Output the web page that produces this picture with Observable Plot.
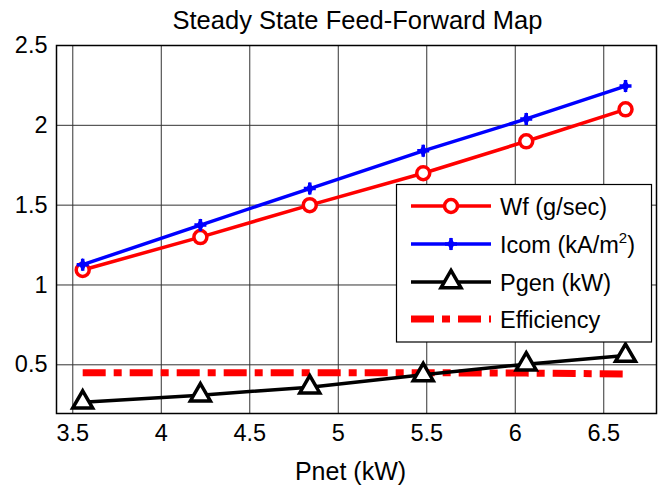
<!DOCTYPE html>
<html><head><meta charset="utf-8">
<script src="https://cdn.jsdelivr.net/npm/d3@7"></script>
<script src="https://cdn.jsdelivr.net/npm/@observablehq/plot@0.6"></script>
<style>html,body{margin:0;padding:0;background:#fff;overflow:hidden}</style>
</head><body><div id="chart"></div>
<script>
// ---- data ----
const pnet       = [3.556, 4.221, 4.839, 5.48, 6.062, 6.623];
const wf         = [1.094, 1.30, 1.50, 1.70, 1.90, 2.10];
const icom       = [1.127, 1.375, 1.604, 1.84, 2.04, 2.246];
const pgen       = [0.265, 0.31, 0.36, 0.437, 0.504, 0.558];
const efficiency = [0.45, 0.45, 0.45, 0.45, 0.448, 0.443];
const xTicks = [3.5, 4, 4.5, 5, 5.5, 6, 6.5];
const yTicks = [0.5, 1, 1.5, 2, 2.5];
const titleText = "Steady State Feed-Forward Map";
const xLabelText = "Pnet (kW)";
const legendNames = ["Wf (g/sec)", "Icom (kA/m", "Pgen (kW)", "Efficiency"];

const FONT = "'Liberation Sans', Arial, Helvetica, sans-serif";
const rows = pnet.map((x, i) => ({x, wf: wf[i], icom: icom[i], pgen: pgen[i], eff: efficiency[i]}));

const plusSym = {draw(ctx, size) {
  const r = Math.sqrt(size / Math.PI);
  ctx.moveTo(-r, 0); ctx.lineTo(r, 0); ctx.moveTo(0, -r); ctx.lineTo(0, r);
}};
const fmt = d => String(d);
const LW = 3.5;

const chart = Plot.plot({
  width: 660, height: 485,
  marginLeft: 56, marginRight: 4, marginTop: 45, marginBottom: 72,
  style: {fontFamily: FONT, background: "#fff", color: "#000"},
  x: {domain: [3.408, 6.798], label: null},
  y: {domain: [0.195, 2.5], label: null},
  marks: [
    Plot.gridX(xTicks, {stroke: "#333", strokeOpacity: 1, strokeWidth: 1}),
    Plot.gridY(yTicks, {stroke: "#333", strokeOpacity: 1, strokeWidth: 1}),
    Plot.axisX(xTicks, {tickSize: 0, tickPadding: 11, fontSize: 23.5, tickFormat: fmt, label: null}),
    Plot.axisY(yTicks, {tickSize: 0, tickPadding: 9, fontSize: 23.5, tickFormat: fmt, label: null}),
    Plot.line(rows, {x: "x", y: "eff", stroke: "#ff0000", strokeWidth: 7, strokeDasharray: "23,8,8,8", strokeLinecap: "butt"}),
    Plot.line(rows, {x: "x", y: "wf", stroke: "#ff0000", strokeWidth: LW}),
    Plot.dot(rows, {x: "x", y: "wf", r: 6.5, stroke: "#ff0000", strokeWidth: LW, fill: "white"}),
    Plot.line(rows, {x: "x", y: "icom", stroke: "#0000ff", strokeWidth: LW}),
    Plot.dot(rows, {x: "x", y: "icom", symbol: plusSym, r: 6, stroke: "#0000ff", strokeWidth: 3.5}),
    Plot.dot(rows, {x: "x", y: "icom", symbol: "diamond", r: 4, fill: "#0000ff"}),
    Plot.line(rows, {x: "x", y: "pgen", stroke: "#000", strokeWidth: LW}),
    Plot.dot(rows, {x: "x", y: "pgen", symbol: d3.symbolTriangle, r: 7.42, stroke: "#000", strokeWidth: LW, fill: "white"}),
    Plot.frame({stroke: "#000", strokeWidth: 1.5})
  ]
});
document.getElementById("chart").appendChild(chart);

const svg = d3.select(chart);
svg.append("text").attr("x", 357.5).attr("y", 28.5).attr("text-anchor", "middle")
  .attr("font-family", FONT).attr("font-size", 25.5).attr("fill", "#000").text(titleText);
svg.append("text").attr("x", 350.5).attr("y", 480).attr("text-anchor", "middle")
  .attr("font-family", FONT).attr("font-size", 25).attr("fill", "#000").text(xLabelText);

// legend
const lg = svg.append("g");
lg.append("rect").attr("x", 396.5).attr("y", 184.5).attr("width", 255).attr("height", 157.5)
  .attr("fill", "#fff").attr("stroke", "#000").attr("stroke-width", 1.2);
const ly = [206, 244, 282, 319];
const lx0 = 411, lx1 = 491, lm = 451, tx = 500;
// Wf
lg.append("line").attr("x1", lx0).attr("x2", lx1).attr("y1", ly[0]).attr("y2", ly[0]).attr("stroke", "#ff0000").attr("stroke-width", LW);
lg.append("circle").attr("cx", lm).attr("cy", ly[0]).attr("r", 6.5).attr("stroke", "#ff0000").attr("stroke-width", LW).attr("fill", "#fff");
// Icom
lg.append("line").attr("x1", lx0).attr("x2", lx1).attr("y1", ly[1]).attr("y2", ly[1]).attr("stroke", "#0000ff").attr("stroke-width", LW);
lg.append("path").attr("transform", `translate(${lm},${ly[1]})`).attr("d", d3.symbol(plusSym, Math.PI * 6 * 6)()).attr("stroke", "#0000ff").attr("stroke-width", 3.5).attr("fill", "none");
lg.append("path").attr("transform", `translate(${lm},${ly[1]})`).attr("d", d3.symbol(d3.symbolDiamond, Math.PI * 4 * 4)()).attr("fill", "#0000ff");
// Pgen
lg.append("line").attr("x1", lx0).attr("x2", lx1).attr("y1", ly[2]).attr("y2", ly[2]).attr("stroke", "#000").attr("stroke-width", LW);
lg.append("path").attr("transform", `translate(${lm},${ly[2]})`).attr("d", d3.symbol(d3.symbolTriangle, Math.PI * 7.42 * 7.42)()).attr("stroke", "#000").attr("stroke-width", LW).attr("fill", "#fff");
// Efficiency
lg.append("line").attr("x1", lx0).attr("x2", lx1).attr("y1", ly[3]).attr("y2", ly[3]).attr("stroke", "#ff0000").attr("stroke-width", 7).attr("stroke-dasharray", "23,8,8,8");

legendNames.forEach((name, i) => {
  const t = lg.append("text").attr("x", tx).attr("y", ly[i] + 8.5).attr("text-anchor", "start")
    .attr("font-family", FONT).attr("font-size", 23.5).attr("fill", "#000").text(name);
  if (i === 1) {
    t.append("tspan").attr("dy", -10).attr("font-size", 15).text("2");
    t.append("tspan").attr("dy", 10).text(")");
  }
});
</script>
</body></html>
